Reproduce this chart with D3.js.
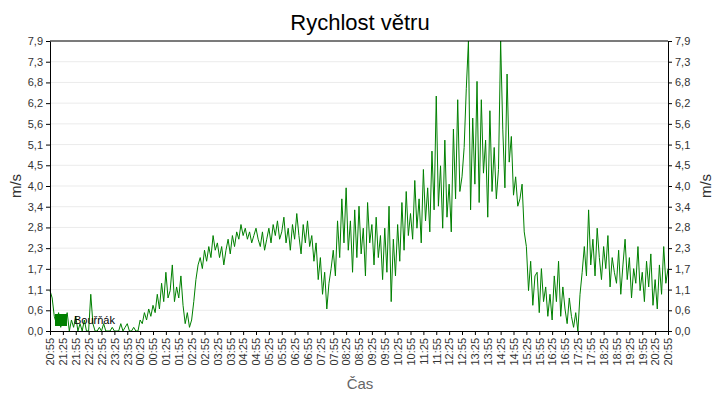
<!DOCTYPE html>
<html><head><meta charset="utf-8">
<script src="https://cdn.jsdelivr.net/npm/d3@7"></script>
<style>
body{margin:0;background:#fff;}
text{font-family:"Liberation Sans",Arial,sans-serif;}
</style></head>
<body><svg id="chart" width="720" height="400"></svg>
<script>
// wind speed samples every 5 minutes, 20:55 -> 20:55 next day
var speeds = [
 1.1,0.9,0.4,0.2,0.5,0.1,0.4,0.2,0.5,0.0,0.3,0.1,
 0.4,0.0,0.2,0.0,0.3,0.0,0.0,1.0,0.2,0.0,0.0,0.1,
 0.0,0.2,0.0,0.0,0.0,0.1,0.0,0.0,0.0,0.2,0.0,0.1,
 0.2,0.0,0.0,0.1,0.0,0.0,0.3,0.2,0.5,0.3,0.6,0.4,
 0.7,0.5,1.0,0.6,1.3,0.8,1.6,0.9,1.1,1.8,0.8,1.2,
 0.9,1.5,0.7,0.2,0.5,0.1,0.3,0.8,1.4,1.8,2.0,1.7,
 2.2,1.9,2.3,2.0,2.6,2.2,2.4,2.0,2.3,1.8,2.2,2.5,
 2.1,2.6,2.3,2.7,2.5,2.9,2.6,2.8,2.5,2.7,2.4,2.6,
 2.8,2.5,2.3,2.7,2.2,2.5,2.8,2.4,2.9,2.6,3.0,2.5,
 2.7,3.1,2.4,2.8,2.2,2.9,2.5,3.2,2.6,2.1,2.9,2.4,
 3.0,2.3,2.6,1.9,2.4,1.4,2.0,1.0,1.6,0.6,1.3,1.7,
 2.2,1.5,3.0,2.0,3.6,2.4,3.9,2.2,3.0,1.6,3.3,2.0,
 3.4,2.1,2.8,1.5,3.5,2.4,2.9,1.8,3.1,2.0,2.6,1.4,
 2.8,1.6,3.4,0.8,2.5,1.5,2.9,1.9,3.5,2.2,3.8,2.6,
 3.2,2.5,4.1,2.8,3.6,2.4,4.4,3.0,3.9,2.7,4.9,3.3,
 6.4,3.4,4.5,2.8,5.2,3.1,4.0,2.7,5.5,3.6,6.3,3.8,
 4.2,5.0,6.6,7.9,3.3,5.8,4.0,6.8,3.5,6.3,4.3,5.2,
 3.1,6.0,3.8,5.0,3.6,4.4,7.9,5.5,3.9,7.0,4.6,5.3,
 3.7,4.2,3.4,3.6,4.0,2.7,2.3,1.1,1.9,0.7,1.5,1.6,
 0.5,1.7,0.8,1.2,0.4,1.0,0.3,1.5,0.8,1.9,0.4,1.2,
 0.6,0.2,0.9,0.4,0.1,0.5,0.0,1.0,1.6,2.3,1.5,3.3,
 1.8,2.5,1.5,2.8,2.0,1.4,2.3,1.7,2.6,1.2,2.0,1.6,
 1.3,2.2,1.0,1.8,2.5,1.4,2.0,0.9,1.7,1.3,2.3,1.1,
 1.6,0.8,1.9,1.2,2.1,0.7,1.4,0.6,1.8,1.0,2.3,1.3,
 1.7
];
var yTickLabels = ["0,0","0,6","1,1","1,7","2,3","2,8","3,4","4,0","4,5","5,1","5,6","6,2","6,8","7,3","7,9"];
var yMax = 7.9;
var seriesName = "Bouřňák";
var startTime = new Date(2020, 0, 1, 20, 55);
var endTime = new Date(2020, 0, 2, 20, 55);

var svg = d3.select("#chart");
var m = {left: 50, right: 52, top: 41, bottom: 69};
var W = 720, H = 400;

var x = d3.scaleTime().domain([startTime, endTime]).range([m.left, W - m.right]);
var y = d3.scaleLinear().domain([0, yMax]).range([H - m.bottom, m.top]);

var data = speeds.map(function(v, i) {
    return {t: d3.timeMinute.offset(startTime, i*5), v: v};
});
var yTicks = yTickLabels.map(function(l, i) { return i*yMax/(yTickLabels.length-1); });
var xTicks = d3.timeMinute.range(startTime, d3.timeMinute.offset(endTime, 1), 30);

// grid
svg.append("g").selectAll("line").data(yTicks.slice(1)).enter().append("line")
    .attr("x1", m.left).attr("x2", W - m.right)
    .attr("y1", function(d) { return y(d); }).attr("y2", function(d) { return y(d); })
    .attr("stroke", "#ebebeb");

// line
svg.append("path").datum(data)
    .attr("fill", "none").attr("stroke", "#008000").attr("stroke-width", 1)
    .attr("d", d3.line().x(function(d) { return x(d.t); }).y(function(d) { return y(d.v); }));

// frame
svg.append("line").attr("x1", m.left).attr("x2", W - m.right).attr("y1", m.top).attr("y2", m.top).attr("stroke", "#000");

var fmtLabel = function(d, i) { return yTickLabels[i]; };
var gl = svg.append("g").attr("transform", "translate(" + m.left + ",0)")
    .call(d3.axisLeft(y).tickValues(yTicks).tickFormat(fmtLabel).tickSize(4).tickSizeOuter(0));
var gr = svg.append("g").attr("transform", "translate(" + (W - m.right) + ",0)")
    .call(d3.axisRight(y).tickValues(yTicks).tickFormat(fmtLabel).tickSize(4).tickSizeOuter(0));
var gb = svg.append("g").attr("transform", "translate(0," + (H - m.bottom) + ")")
    .call(d3.axisBottom(x).tickValues(xTicks).tickFormat(d3.timeFormat("%H:%M")).tickSize(4).tickSizeOuter(0));
gb.selectAll("text")
    .attr("transform", "rotate(-90)")
    .attr("text-anchor", "end")
    .attr("x", -7).attr("y", 0).attr("dy", "0.35em");
[gl, gr, gb].forEach(function(g) {
    g.selectAll("text").attr("fill", "#333").style("font-size", "11px").style("font-family", "Liberation Sans");
    g.selectAll("line, path").attr("stroke", "#000");
});

// titles
svg.append("text").attr("x", 360).attr("y", 30).attr("text-anchor", "middle")
    .style("font-size", "22px").attr("fill", "#000").text("Rychlost větru");
svg.append("text").attr("x", 360).attr("y", 389).attr("text-anchor", "middle")
    .style("font-size", "15px").attr("fill", "#666").text("Čas");
svg.append("text").attr("transform", "translate(21,186) rotate(-90)").attr("text-anchor", "middle")
    .style("font-size", "15px").attr("fill", "#333").text("m/s");
svg.append("text").attr("transform", "translate(711,186) rotate(-90)").attr("text-anchor", "middle")
    .style("font-size", "15px").attr("fill", "#333").text("m/s");

// legend
svg.append("rect").attr("x", 55).attr("y", 314).attr("width", 12).attr("height", 12).attr("fill", "#008000");
svg.append("text").attr("x", 74).attr("y", 324).style("font-size", "11px").attr("fill", "#000").text(seriesName);
</script></body></html>
